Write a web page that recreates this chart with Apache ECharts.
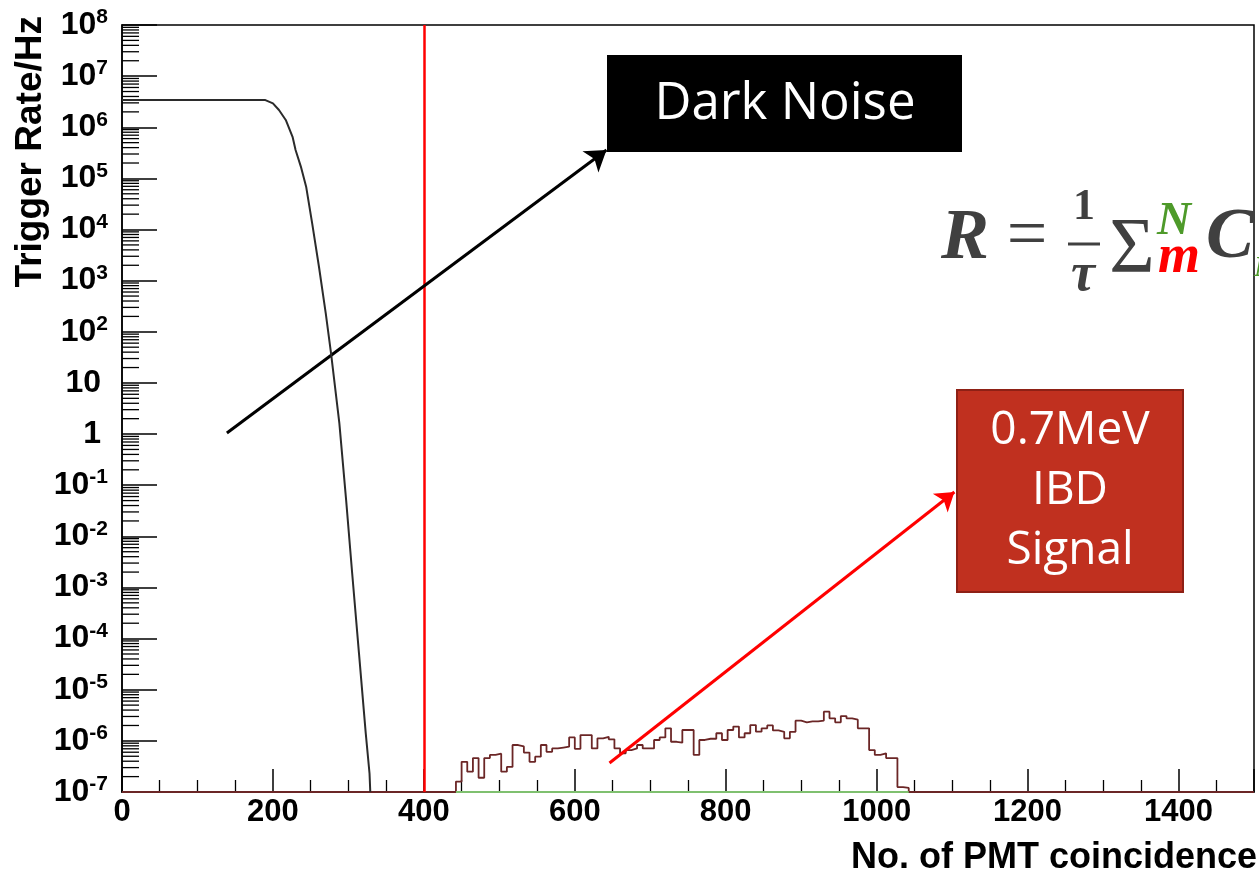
<!DOCTYPE html>
<html>
<head>
<meta charset="utf-8">
<script src="https://cdn.jsdelivr.net/npm/echarts@6/dist/echarts.min.js"></script>
<style>
html,body{margin:0;padding:0;background:#fff;}
#chart{width:1259px;height:872px;}
</style>
</head>
<body>
<div id="chart"></div>
<script>
// ---------------- data ----------------
const darkNoiseX    = [0, 190, 200, 208, 217, 226, 230, 237, 244, 252, 261, 270, 277, 288, 297, 305, 314, 323, 328, 329];
const darkNoiseRate = [3.4e6, 3.4e6, 2.94e6, 2.18e6, 1.39e6, 6.5e5, 3.6e5, 1.7e5, 6.9e4, 1.32e4, 1.87e3, 230, 38, 1.64, 0.051, 1.9e-3, 5.2e-5, 1.4e-6, 2.3e-7, 1e-7];

const ibdBinEdges = [
  442.5, 450, 457.5, 465, 472.5, 480, 487.5, 495, 502.5, 510,
  517.5, 525, 532.5, 540, 547.5, 555, 562.5, 570, 577.5, 585,
  592.5, 600, 607.5, 615, 622.5, 630, 637.5, 645, 652.5, 660,
  667.5, 675, 682.5, 690, 697.5, 705, 712.5, 720, 727.5, 735,
  742.5, 750, 757.5, 765, 772.5, 780, 787.5, 795, 802.5, 810,
  817.5, 825, 832.5, 840, 847.5, 855, 862.5, 870, 877.5, 885,
  892.5, 900, 907.5, 915, 922.5, 930, 937.5, 945, 952.5, 960,
  967.5, 975, 982.5, 990, 997.5, 1005, 1012.5, 1020, 1027.5, 1035
];
const ibdLastEdge = 1042.5;
const ibdBinRate = [
  1.6e-7, 3.9e-7, 2.5e-7, 4.6e-7, 1.9e-7, 4.6e-7, 5.3e-7, 5.6e-7, 2.5e-7, 3.1e-7,
  8.3e-7, 7.8e-7, 5.9e-7, 3.9e-7, 4.9e-7, 8.3e-7, 6.1e-7, 7.1e-7, 7.4e-7, 7.7e-7,
  1.17e-6, 7.0e-7, 1.3e-6, 1.3e-6, 7.1e-7, 1.12e-6, 1.2e-6, 1.07e-6, 7.1e-7, 5.7e-7,
  6.6e-7, 7.1e-7, 8.3e-7, 7.1e-7, 7.1e-7, 1.04e-6, 1.17e-6, 1.76e-6, 9.6e-7, 9.2e-7,
  1.63e-6, 1.63e-6, 5.3e-7, 1.04e-6, 1.1e-6, 1.1e-6, 1.41e-6, 1.04e-6, 1.63e-6, 1.9e-6,
  1.17e-6, 1.41e-6, 2.04e-6, 1.51e-6, 1.76e-6, 2.0e-6, 1.6e-6, 1.5e-6, 1.12e-6, 1.5e-6,
  2.48e-6, 2.3e-6, 2.4e-6, 2.4e-6, 2.5e-6, 3.73e-6, 2.76e-6, 2.3e-6, 3.06e-6, 2.76e-6,
  2.6e-6, 1.76e-6, 1.76e-6, 6.6e-7, 5.3e-7, 5.7e-7, 4.6e-7, 4.6e-7, 1.25e-7, 1.2e-7
];

const xRange = [0, 1500];
const yRange = [1e-7, 1e8];
const thresholdPMT = 400;
const darkArrow = [[139, 1.05], [642, 3.6e5]];
const ibdArrow  = [[646, 3.7e-7], [1103, 0.0735]];
const yDecadeExponents = [-7, -6, -5, -4, -3, -2, -1, 0, 1, 2, 3, 4, 5, 6, 7];
const yMinorMultipliers = [2, 3, 4, 5, 6, 7, 8, 9];

// ---------------- build series data ----------------
const darkNoiseData = darkNoiseX.map((x, i) => [x, darkNoiseRate[i]]);
const ibdData = [[xRange[0], yRange[0]]]
  .concat(ibdBinEdges.map((x, i) => [x, ibdBinRate[i]]))
  .concat([[ibdLastEdge, yRange[0]], [xRange[1], yRange[0]]]);
const greenBase = [[ibdBinEdges[0], yRange[0]], [ibdLastEdge, yRange[0]]];
const minorTickData = [];
yDecadeExponents.forEach(e => yMinorMultipliers.forEach(m => minorTickData.push([0, m * Math.pow(10, e)])));

const FONT = 'Liberation Sans';
const SERIF = 'Liberation Serif';

const chart = echarts.init(document.getElementById('chart'), null, {renderer: 'canvas'});

const option = {
  animation: false,
  backgroundColor: '#ffffff',
  grid: {left: 122, top: 25, right: 5, bottom: 80, show: true, borderColor: '#000', borderWidth: 1.5, containLabel: false, outerBoundsMode: 'none'},
  xAxis: {
    type: 'value', min: xRange[0], max: xRange[1], interval: 200,
    axisLine: {show: true, onZero: false, lineStyle: {color: '#000', width: 1.5}},
    axisTick: {show: true, inside: true, length: 23, lineStyle: {color: '#000', width: 1.5}},
    minorTick: {show: true, splitNumber: 4, length: 12, lineStyle: {color: '#000', width: 1.3}},
    splitLine: {show: false},
    axisLabel: {show: true, showMaxLabel: false, margin: 4, fontFamily: FONT, fontWeight: 'bold', fontSize: 31, color: '#000', lineHeight: 32,
      formatter: function (v) { return String(v); }}
  },
  yAxis: {
    type: 'log', logBase: 10, min: yRange[0], max: yRange[1], interval: 1, splitNumber: 15,
    axisLine: {show: true, lineStyle: {color: '#000', width: 1.5}},
    axisTick: {show: true, inside: true, length: 35, lineStyle: {color: '#000', width: 1.5}},
    splitLine: {show: false},
    axisLabel: {
      show: true, margin: 14,
      formatter: function (v) {
        const e = Math.round(Math.log10(v));
        if (e === 0) return '{p|1}';
        if (e === 1) return '{p|10}';
        return '{b|10}{s|' + e + '}';
      },
      rich: {
        b: {fontFamily: FONT, fontWeight: 'bold', fontSize: 32, color: '#000', lineHeight: 36},
        p: {fontFamily: FONT, fontWeight: 'bold', fontSize: 32, color: '#000', lineHeight: 36, padding: [0, 7, 0, 0]},
        s: {fontFamily: FONT, fontWeight: 'bold', fontSize: 21, color: '#000', lineHeight: 21, verticalAlign: 'top'}
      }
    }
  },
  series: [
    {
      type: 'custom', name: 'yMinorTicks', coordinateSystem: 'cartesian2d', clip: false, silent: true, z: 3,
      data: minorTickData,
      renderItem: function (params, api) {
        const p = api.coord([0, api.value(1)]);
        return {type: 'line', shape: {x1: p[0], y1: p[1], x2: p[0] + 17, y2: p[1]}, style: {stroke: '#000', lineWidth: 1.3}};
      }
    },
    {
      type: 'line', name: 'IBD', data: ibdData, step: 'end', showSymbol: false, symbol: 'none', z: 4,
      lineStyle: {color: '#6b2626', width: 1.8}
    },
    {
      type: 'line', name: 'base', data: greenBase, showSymbol: false, symbol: 'none', z: 5,
      lineStyle: {color: '#7fc06f', width: 2}
    },
    {
      type: 'line', name: 'Dark Noise', data: darkNoiseData, showSymbol: false, symbol: 'none', z: 6,
      lineStyle: {color: '#2b2b2b', width: 2},
      markLine: {
        silent: true, animation: false, symbol: ['none', 'arrow'], symbolSize: 20,
        label: {show: false},
        data: [
          [{xAxis: thresholdPMT, yAxis: yRange[0], symbol: 'none', lineStyle: {color: '#ff0000', width: 2.5, type: 'solid'}},
           {xAxis: thresholdPMT, yAxis: yRange[1], symbol: 'none'}],
          [{coord: darkArrow[0], symbol: 'none', lineStyle: {color: '#000', width: 3, type: 'solid'}},
           {coord: darkArrow[1], symbol: 'arrow', symbolSize: 20, itemStyle: {color: '#000'}}],
          [{coord: ibdArrow[0], symbol: 'none', lineStyle: {color: '#ff0000', width: 3, type: 'solid'}},
           {coord: ibdArrow[1], symbol: 'arrow', symbolSize: 18, itemStyle: {color: '#ff0000'}}]
        ]
      }
    }
  ],
  graphic: [
    // axis titles
    {type: 'text', x: 31, y: 16, rotation: Math.PI / 2, z: 10,
     style: {text: 'Trigger Rate/Hz', fontFamily: FONT, fontWeight: 'bold', fontSize: 37, fill: '#000', align: 'right', verticalAlign: 'middle'}},
    {type: 'text', x: 1257, y: 858, z: 10,
     style: {text: 'No. of PMT coincidence', fontFamily: FONT, fontWeight: 'bold', fontSize: 36, fill: '#000', align: 'right', verticalAlign: 'middle'}},
    // Dark Noise box
    {type: 'rect', shape: {x: 607, y: 55, width: 355, height: 97}, style: {fill: '#000'}, z: 10},
    {type: 'text', x: 785, y: 104, z: 11,
     style: {text: 'Dark Noise', fontFamily: 'Open Sans', fontSize: 51, fill: '#fff', align: 'center', verticalAlign: 'middle'}},
    // IBD box
    {type: 'rect', shape: {x: 957, y: 390, width: 226, height: 202}, style: {fill: '#c0301f', stroke: '#8e2015', lineWidth: 2}, z: 10},
    {type: 'text', x: 1070, y: 491, z: 11,
     style: {text: '0.7MeV\nIBD\nSignal', fontFamily: 'Open Sans', fontSize: 46, lineHeight: 60, fill: '#fff', align: 'center', verticalAlign: 'middle'}},
    // formula
    {type: 'text', x: 941, y: 239, z: 10, style: {text: 'R', fontFamily: SERIF, fontWeight: 'bold', fontStyle: 'italic', fontSize: 72, fill: '#404040', align: 'left', verticalAlign: 'middle'}},
    {type: 'text', x: 1027, y: 238, z: 10, style: {text: '=', fontFamily: SERIF, fontSize: 72, fill: '#404040', align: 'center', verticalAlign: 'middle'}},
    {type: 'text', x: 1084, y: 208, z: 10, style: {text: '1', fontFamily: SERIF, fontWeight: 'bold', fontSize: 44, fill: '#404040', align: 'center', verticalAlign: 'middle'}},
    {type: 'line', shape: {x1: 1068, y1: 244, x2: 1100, y2: 244}, style: {stroke: '#404040', lineWidth: 3}, z: 10},
    {type: 'text', x: 1083, y: 276, z: 10, style: {text: 'τ', fontFamily: SERIF, fontWeight: 'bold', fontStyle: 'italic', fontSize: 54, fill: '#404040', align: 'center', verticalAlign: 'middle'}},
    {type: 'text', x: 1132, y: 251, z: 10, style: {text: 'Σ', fontFamily: SERIF, fontSize: 78, fill: '#404040', align: 'center', verticalAlign: 'middle'}},
    {type: 'text', x: 1174, y: 222, z: 10, style: {text: 'N', fontFamily: SERIF, fontWeight: 'bold', fontStyle: 'italic', fontSize: 47, fill: '#4e9a2a', align: 'center', verticalAlign: 'middle'}},
    {type: 'text', x: 1179, y: 258, z: 10, style: {text: 'm', fontFamily: SERIF, fontWeight: 'bold', fontStyle: 'italic', fontSize: 54, fill: '#ff0000', align: 'center', verticalAlign: 'middle'}},
    {type: 'text', x: 1230, y: 238, z: 10, style: {text: 'C', fontFamily: SERIF, fontWeight: 'bold', fontStyle: 'italic', fontSize: 72, fill: '#404040', align: 'center', verticalAlign: 'middle'}},
    {type: 'text', x: 1254, y: 268, z: 10, style: {text: 'N', fontFamily: SERIF, fontWeight: 'bold', fontStyle: 'italic', fontSize: 30, fill: '#4e9a2a', align: 'left', verticalAlign: 'middle'}}
  ]
};
chart.setOption(option);
</script>
</body>
</html>
